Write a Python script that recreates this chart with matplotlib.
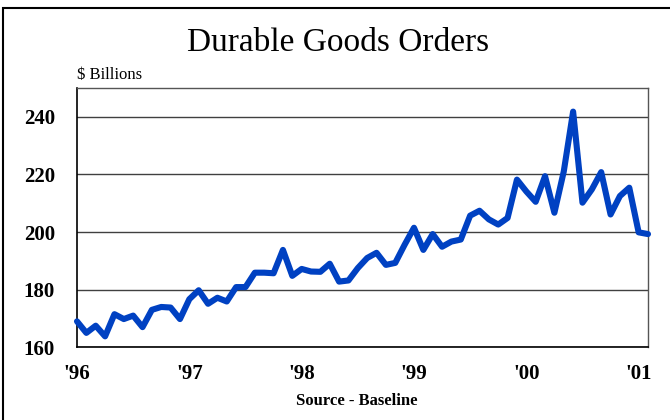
import matplotlib
matplotlib.use("Agg")
import matplotlib.pyplot as plt
from matplotlib.patches import Rectangle
import numpy as np

plt.rcParams['font.family'] = ['Liberation Serif', 'DejaVu Serif']

# Monthly durable goods orders, $ billions, Jan 1996 - Feb 2001
orders = [169.0, 165.0, 167.5, 163.8, 171.5, 169.8, 171.0, 167.0, 173.0, 174.0,
          173.8, 169.8, 176.7, 179.8, 175.1, 177.2, 175.9, 180.9, 180.9, 185.9,
          185.9, 185.7, 193.8, 184.8, 187.2, 186.3, 186.2, 189.0, 182.8, 183.2,
          187.5, 191.0, 192.8, 188.6, 189.3, 195.6, 201.5, 193.8, 199.3, 194.9,
          196.7, 197.4, 205.7, 207.4, 204.4, 202.6, 204.9, 218.2, 214.1, 210.5,
          219.4, 206.7, 221.0, 241.8, 210.2, 214.8, 220.8, 206.1, 212.5, 215.4,
          199.9, 199.3]
year_labels = ["'96", "'97", "'98", "'99", "'00", "'01"]
y_ticks = [160, 180, 200, 220, 240]

fig = plt.figure(figsize=(6.7, 4.2), dpi=100)
fig.patch.set_facecolor('white')

# outer frame (cropped on right/bottom as in the reference)
fig.patches.append(Rectangle((2.5 / 670, -0.1), 1.2, 1.1 - 8.5 / 420,
                             transform=fig.transFigure, fill=False,
                             edgecolor='black', linewidth=1.5, zorder=0))

ax = fig.add_axes([77 / 670, 1 - 347.3 / 420, (648 - 77) / 670, (347.3 - 88) / 420])

x = np.arange(len(orders))
ax.plot(x, orders, color='#0041C2', linewidth=4.4, solid_capstyle='round',
        solid_joinstyle='round', clip_on=False, zorder=3)

ax.set_xlim(0, len(orders) - 1)
ax.set_ylim(160, 250)
ax.set_yticks(y_ticks)
ax.set_yticklabels([str(v) for v in y_ticks], fontsize=15, fontweight='bold')
ax.set_xticks(np.arange(len(year_labels)) * 12)
ax.set_xticklabels(year_labels, fontsize=15, fontweight='bold')
ax.tick_params(axis='both', length=0)
ax.tick_params(axis='y', pad=16)
ax.tick_params(axis='x', pad=12)

ax.grid(axis='y', color='#404040', linewidth=1.0)
ax.set_axisbelow(True)
for side in ['left', 'bottom']:
    ax.spines[side].set_color('black')
    ax.spines[side].set_linewidth(1.2)
for side in ['top', 'right']:
    ax.spines[side].set_color('#555555')
    ax.spines[side].set_linewidth(1.0)

fig.text(338 / 670, 1 - 43 / 420, 'Durable Goods Orders', ha='center', va='center',
         fontsize=24)
fig.text(77 / 670, 1 - 75 / 420, '$ Billions', ha='left', va='center', fontsize=12)
fig.text(357 / 670, 1 - 401 / 420, 'Source - Baseline', ha='center', va='center',
         fontsize=12, fontweight='bold')

fig.savefig('out.png', dpi=100, facecolor='white')
